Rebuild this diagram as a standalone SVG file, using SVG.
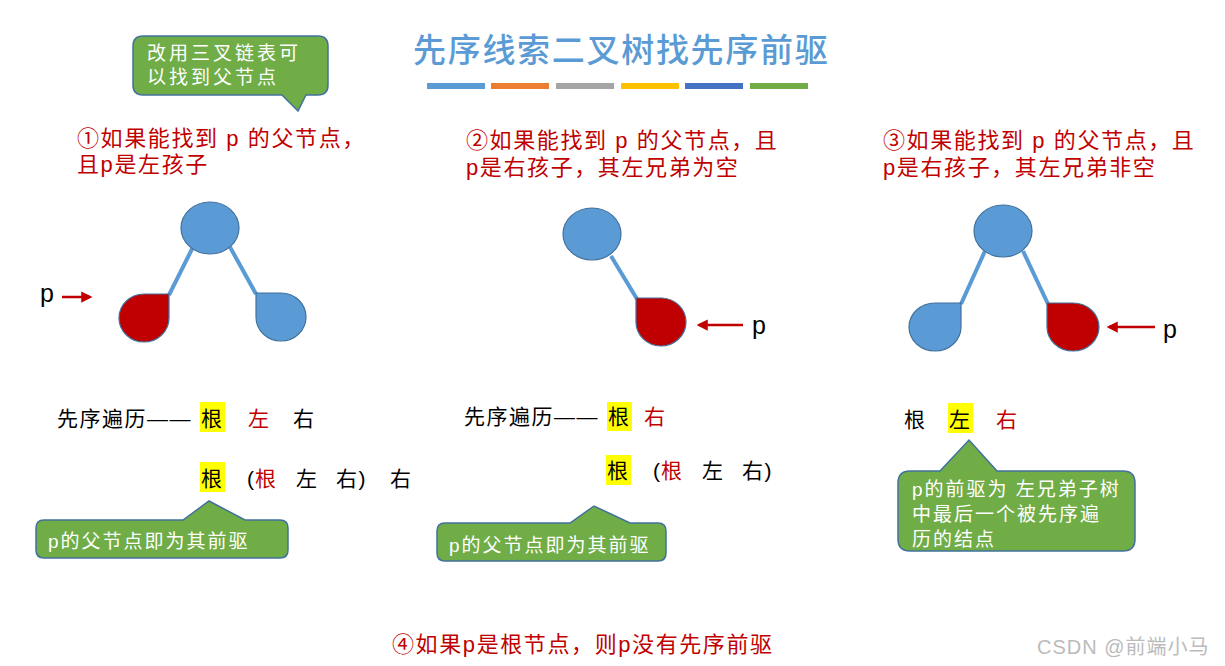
<svg xmlns="http://www.w3.org/2000/svg" width="1225" height="666" viewBox="0 0 1225 666">
<defs>
<style>
.t{font-family:"Liberation Sans","Noto Sans CJK SC",sans-serif;}
.red{fill:#C00000;font-size:22px;letter-spacing:1.6px;}
.blk{fill:#000;font-size:21px;letter-spacing:1.5px;}
.wh{fill:#fff;font-size:19px;letter-spacing:2px;}
.call{fill:#70AD47;stroke:#41719C;stroke-width:1.5;}
.bn{fill:#5B9BD5;stroke:#41719C;stroke-width:1.2;}
.rn{fill:#C00000;stroke:#41719C;stroke-width:1.2;}
.edge{stroke:#5B9BD5;stroke-width:4;fill:none;}
.parr{stroke:#C00000;stroke-width:2.5;fill:none;marker-end:url(#ah);}
.hl{fill:#FFFF00;}
.pl{fill:#000;font-size:25px;}
</style>
<marker id="ah" markerWidth="4.5" markerHeight="4.5" refX="3.5" refY="2.25" orient="auto" markerUnits="strokeWidth">
<path d="M0,0 L4.5,2.25 L0,4.5 Z" fill="#C00000"/>
</marker>
</defs>
<rect width="1225" height="666" fill="#fff"/>

<g id="title">
<text class="t" x="413" y="62" style="fill:#5B9BD5;font-size:33px;letter-spacing:1.7px;font-weight:500;">先序线索二叉树找先序前驱</text>
<rect x="427" y="83" width="58" height="6" fill="#5B9BD5"/>
<rect x="491" y="83" width="58" height="6" fill="#ED7D31"/>
<rect x="556" y="83" width="58" height="6" fill="#A5A5A5"/>
<rect x="621" y="83" width="58" height="6" fill="#FFC000"/>
<rect x="685" y="83" width="58" height="6" fill="#4472C4"/>
<rect x="750" y="83" width="58" height="6" fill="#70AD47"/>
</g>

<g id="callout-top">
<path class="call" d="M143,36 H318 Q328,36 328,46 V85 Q328,95 318,95 H306 L298,111 L282,95 H143 Q133,95 133,85 V46 Q133,36 143,36 Z"/>
<text class="t wh" x="147" y="60" style="letter-spacing:3px">改用三叉链表可</text>
<text class="t wh" x="147" y="84" style="letter-spacing:3px">以找到父节点</text>
</g>

<g id="case1-label">
<text class="t red" x="77" y="146">①如果能找到 p 的父节点，</text>
<text class="t red" x="77" y="172">且p是左孩子</text>
</g>
<g id="case2-label">
<text class="t red" x="466" y="148">②如果能找到 p 的父节点，且</text>
<text class="t red" x="466" y="175">p是右孩子，其左兄弟为空</text>
</g>
<g id="case3-label">
<text class="t red" x="883" y="148">③如果能找到 p 的父节点，且</text>
<text class="t red" x="883" y="175">p是右孩子，其左兄弟非空</text>
</g>

<g id="connectors">
<line class="edge" x1="193" y1="247" x2="169" y2="295"/>
<line class="edge" x1="230" y1="247" x2="256" y2="294"/>
<line class="edge" x1="611" y1="256" x2="637" y2="299"/>
<line class="edge" x1="985" y1="251" x2="961" y2="304"/>
<line class="edge" x1="1023" y1="251" x2="1048" y2="304"/>
<line class="parr" x1="62" y1="297" x2="90" y2="297"/>
<line class="parr" x1="743" y1="325" x2="699" y2="325"/>
<line class="parr" x1="1155" y1="327" x2="1109" y2="327"/>
</g>

<g id="tree1-root"><ellipse class="bn" cx="210" cy="228" rx="29" ry="26"/></g>
<g id="tree1-left"><path class="rn" d="M169,294 V318 A25,24 0 1 1 144,294 Z"/></g>
<g id="tree1-right"><path class="bn" d="M256,293 H281 A25,24 0 1 1 256,317 Z"/></g>
<g id="tree1-p"><text class="t pl" x="40" y="302">p</text></g>

<g id="tree2-root"><ellipse class="bn" cx="592" cy="234" rx="29" ry="26"/></g>
<g id="tree2-right"><path class="rn" d="M636,298 H662 A25,24 0 1 1 636,322 Z"/></g>
<g id="tree2-p"><text class="t pl" x="752" y="334">p</text></g>

<g id="tree3-root"><ellipse class="bn" cx="1003" cy="231" rx="29" ry="26"/></g>
<g id="tree3-left"><path class="bn" d="M961,303 V327 A26,24 0 1 1 935,303 Z"/></g>
<g id="tree3-right"><path class="rn" d="M1047,303 H1073 A26,24 0 1 1 1047,327 Z"/></g>
<g id="tree3-p"><text class="t pl" x="1163" y="338">p</text></g>

<g id="trav1">
<rect class="hl" x="200" y="402" width="25" height="30"/>
<rect class="hl" x="200" y="462" width="25" height="30"/>
<text class="t blk" x="57" y="426">先序遍历——</text>
<text class="t blk" x="201" y="426">根</text>
<text class="t blk" x="248" y="426" style="fill:#C00000">左</text>
<text class="t blk" x="293" y="426">右</text>
<text class="t blk" x="201" y="486">根</text>
<text class="t blk" x="247" y="486">(</text>
<text class="t blk" x="255" y="486" style="fill:#C00000">根</text>
<text class="t blk" x="296" y="486">左</text>
<text class="t blk" x="336" y="486">右)</text>
<text class="t blk" x="390" y="486">右</text>
</g>
<g id="callout1">
<path class="call" d="M44,520 H183 L209,501 L245,520 H280 Q288,520 288,528 V550 Q288,558 280,558 H44 Q36,558 36,550 V528 Q36,520 44,520 Z"/>
<text class="t wh" x="48" y="548">p的父节点即为其前驱</text>
</g>

<g id="trav2">
<rect class="hl" x="607" y="402" width="25" height="29"/>
<rect class="hl" x="606" y="455" width="25" height="30"/>
<text class="t blk" x="464" y="424">先序遍历——</text>
<text class="t blk" x="608" y="424">根</text>
<text class="t blk" x="644" y="424" style="fill:#C00000">右</text>
<text class="t blk" x="607" y="478">根</text>
<text class="t blk" x="653" y="478">(</text>
<text class="t blk" x="661" y="478" style="fill:#C00000">根</text>
<text class="t blk" x="702" y="478">左</text>
<text class="t blk" x="742" y="478">右)</text>
</g>
<g id="callout2">
<path class="call" d="M445,523 H570 L594,506 L630,523 H658 Q666,523 666,531 V553 Q666,561 658,561 H445 Q437,561 437,553 V531 Q437,523 445,523 Z"/>
<text class="t wh" x="449" y="552">p的父节点即为其前驱</text>
</g>

<g id="trav3">
<rect class="hl" x="948" y="403" width="25" height="30"/>
<text class="t blk" x="904" y="427">根</text>
<text class="t blk" x="949" y="427">左</text>
<text class="t blk" x="996" y="427" style="fill:#C00000">右</text>
</g>
<g id="callout3">
<path class="call" d="M910,471 H940 L969,440 L997,471 H1123 Q1135,471 1135,483 V539 Q1135,551 1123,551 H910 Q898,551 898,539 V483 Q898,471 910,471 Z"/>
<text class="t wh" x="912" y="496">p的前驱为 左兄弟子树</text>
<text class="t wh" x="912" y="521">中最后一个被先序遍</text>
<text class="t wh" x="912" y="546">历的结点</text>
</g>

<g id="case4">
<text class="t red" x="392" y="652">④如果p是根节点，则p没有先序前驱</text>
</g>
<g id="watermark">
<text class="t" x="1037" y="654" style="fill:#BBBBBB;font-size:20px;letter-spacing:1px;">CSDN @前端小马</text>
</g>
</svg>
